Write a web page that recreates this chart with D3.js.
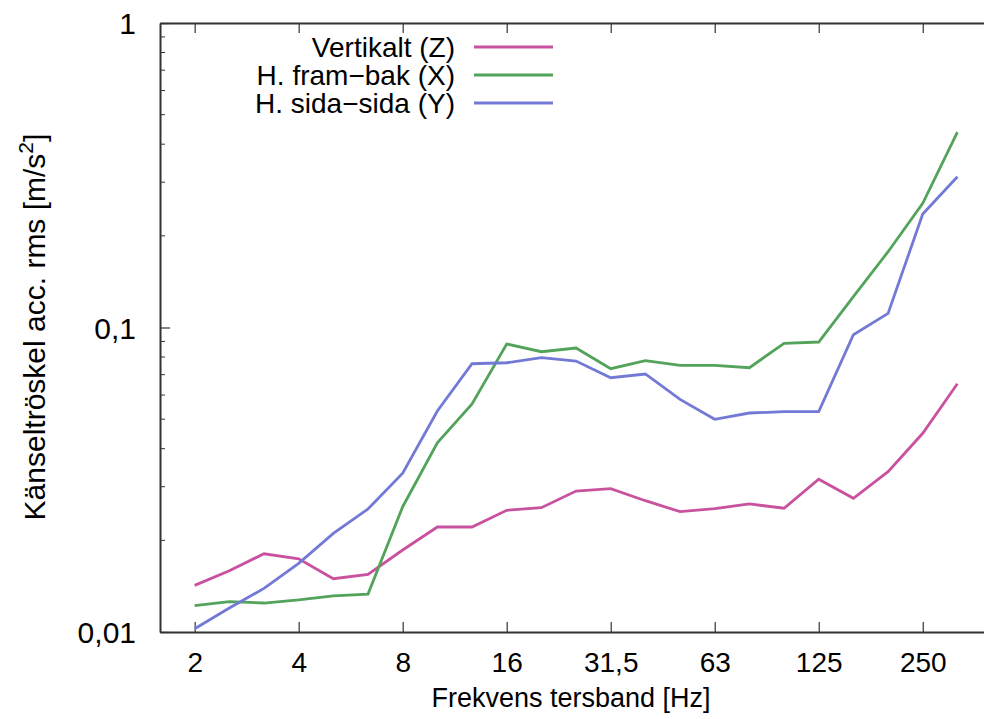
<!DOCTYPE html>
<html>
<head>
<meta charset="utf-8">
<script src="https://cdn.jsdelivr.net/npm/d3@7/dist/d3.min.js"></script>
<style>
  body { margin: 0; background: #fff; }
  text { font-family: "Liberation Sans", Arial, Helvetica, sans-serif; fill: #000; }
</style>
</head>
<body>
<div id="chart"></div>
<script>
var width = 984,
	height = 719;
var margin = {left: 160, top: 23, bottom: 632};
var bandWidth = 34.67;

// tersband (third octave) centre frequencies
var bands = ["2", "2,5", "3,15", "4", "5", "6,3", "8", "10", "12,5", "16", "20", "25",
	"31,5", "40", "50", "63", "80", "100", "125", "160", "200", "250", "315"];
var tickBands = ["2", "4", "8", "16", "31,5", "63", "125", "250"];

var vertikalt = [0.01423, 0.01590, 0.01807, 0.01740, 0.01496, 0.01547, 0.01859, 0.02212,
	0.02212, 0.02510, 0.02560, 0.02904, 0.02955, 0.02699, 0.02484, 0.02541, 0.02633,
	0.02549, 0.03176, 0.02748, 0.03361, 0.04493, 0.06537];
var framBak = [0.01220, 0.01258, 0.01245, 0.01274, 0.01315, 0.01332, 0.02579, 0.04183,
	0.05609, 0.08826, 0.08326, 0.08562, 0.07322, 0.07788, 0.07512, 0.07512, 0.07379,
	0.08872, 0.08960, 0.1263, 0.1774, 0.2558, 0.4378];
var sidaSida = [0.01025, 0.01199, 0.01391, 0.01681, 0.02109, 0.02535, 0.03321, 0.05318,
	0.07603, 0.07661, 0.07959, 0.07762, 0.06841, 0.07036, 0.05808, 0.04995, 0.05238,
	0.05290, 0.05297, 0.09471, 0.1113, 0.2358, 0.3128];

var seriesNames = ["Vertikalt (Z)", "H. fram\u2212bak (X)", "H. sida\u2212sida (Y)"];
var seriesColors = ["#c9529f", "#53a35b", "#737ad6"];
var seriesValues = [vertikalt, framBak, sidaSida];

var yTicks = [1, 0.1, 0.01];
var yTickLabels = ["1", "0,1", "0,01"];

var svg = d3.select("#chart").append("svg")
	.attr("width", width)
	.attr("height", height);

var x = d3.scaleLinear()
	.domain([-1, 23.5])
	.range([margin.left, margin.left + bandWidth * 24.5]);
var y = d3.scaleLog()
	.domain([0.01, 1])
	.range([margin.bottom, margin.top]);

var axisColor = "#333";
var fontSize = "27px";

// minor y ticks
var minor = [];
[0.01, 0.1].forEach(function(d) {
	for(var k = 2; k < 10; k++) minor.push(d * k);
});
svg.append("g").selectAll("line").data(minor).enter().append("line")
	.attr("x1", margin.left).attr("x2", margin.left + 5)
	.attr("y1", function(d) { return y(d); })
	.attr("y2", function(d) { return y(d); })
	.attr("stroke", axisColor).attr("stroke-width", 1);

// y axis
var yAxis = d3.axisLeft(y)
	.tickValues(yTicks)
	.tickFormat(function(d, i) { return yTickLabels[i]; })
	.tickSizeInner(-10)
	.tickSizeOuter(0)
	.tickPadding(24);
var gy = svg.append("g")
	.attr("transform", "translate(" + margin.left + ",0)")
	.call(yAxis);
gy.selectAll("text").style("font-size", "30px").attr("dy", "0.35em");

// bottom x axis
var xAxis = d3.axisBottom(x)
	.tickValues(tickBands.map(function(b) { return bands.indexOf(b); }))
	.tickFormat(function(d) { return bands[d]; })
	.tickSizeInner(-10)
	.tickSizeOuter(0)
	.tickPadding(20);
var gx = svg.append("g")
	.attr("transform", "translate(0," + margin.bottom + ")")
	.call(xAxis);
gx.selectAll("text").style("font-size", "28px");

// top mirror ticks
var gt = svg.append("g")
	.attr("transform", "translate(0," + margin.top + ")")
	.call(d3.axisTop(x)
		.tickValues(tickBands.map(function(b) { return bands.indexOf(b); }))
		.tickFormat("")
		.tickSizeInner(-10)
		.tickSizeOuter(0));

[gy, gx, gt].forEach(function(g) {
	g.select(".domain").attr("stroke", axisColor).attr("stroke-width", 2);
	g.selectAll(".tick line").attr("stroke", axisColor).attr("stroke-width", 1.2);
});

// lines
var line = d3.line()
	.x(function(d, i) { return x(i); })
	.y(function(d) { return y(d); });

seriesValues.forEach(function(vals, s) {
	svg.append("path")
		.datum(vals)
		.attr("fill", "none")
		.attr("stroke", seriesColors[s])
		.attr("stroke-width", 2.8)
		.attr("d", line);
});

// legend
seriesNames.forEach(function(name, s) {
	var cy = 47 + s * 28;
	svg.append("text")
		.attr("x", 455)
		.attr("y", cy + 10)
		.attr("text-anchor", "end")
		.style("font-size", "28px")
		.text(name);
	svg.append("line")
		.attr("x1", 474).attr("x2", 553)
		.attr("y1", cy).attr("y2", cy)
		.attr("stroke", seriesColors[s])
		.attr("stroke-width", 2.8);
});

// axis titles
svg.append("text")
	.attr("x", 571)
	.attr("y", 707)
	.attr("text-anchor", "middle")
	.style("font-size", fontSize)
	.text("Frekvens tersband [Hz]");

var yt = svg.append("text")
	.attr("transform", "translate(45,327) rotate(-90)")
	.attr("text-anchor", "middle")
	.style("font-size", "30px");
yt.append("tspan").text("Känseltröskel acc. rms [m/s");
yt.append("tspan").attr("dy", -12).style("font-size", "21px").text("2");
yt.append("tspan").attr("dy", 12).text("]");
</script>
</body>
</html>
